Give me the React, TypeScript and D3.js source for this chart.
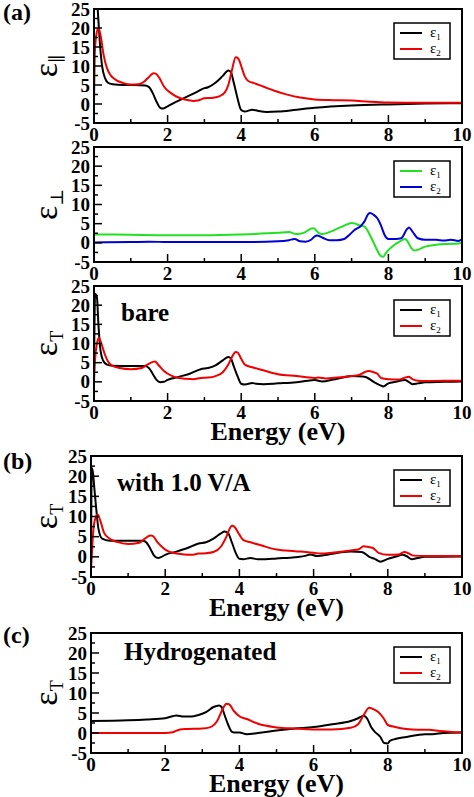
import React from "react";
import * as d3 from "d3";

// ---------- data (Energy in eV, value) ----------
const xTicks = [0, 2, 4, 6, 8, 10];
const yTicks = [-5, 0, 5, 10, 15, 20, 25];

const parEps1: [number, number][] = [
  [0.0, 28], [0.08, 27], [0.12, 22], [0.16, 16], [0.22, 10], [0.3, 6.8], [0.38, 5.6], [0.5, 5.2], [0.8, 5.0], [1.1, 5.0],
  [1.4, 4.9], [1.5, 4.4], [1.6, 2.8], [1.7, 0.6], [1.8, -1.0], [1.87, -1.2], [2.0, -0.6], [2.2, 0.4], [2.5, 1.8],
  [2.8, 3.2], [2.95, 4.0], [3.1, 4.4], [3.3, 5.6], [3.5, 7.4], [3.65, 8.8], [3.72, 8.4], [3.8, 5.5], [3.9, 1.5],
  [4.0, -1.6], [4.1, -2.0], [4.3, -1.5], [4.45, -1.8], [4.7, -2.1], [5.0, -2.0], [5.5, -1.5], [6.0, -1.0],
  [7.0, -0.4], [8.0, -0.1], [9.0, 0.1], [10.0, 0.2],
];
const parEps2: [number, number][] = [
  [0.0, 0], [0.02, 13], [0.06, 18], [0.12, 20], [0.18, 18], [0.26, 13], [0.35, 9.5], [0.45, 7.6], [0.6, 6.3],
  [0.8, 5.5], [1.0, 5.1], [1.2, 5.2], [1.35, 5.8], [1.5, 7.2], [1.62, 8.1], [1.68, 8.0], [1.78, 6.8], [1.9, 4.6],
  [2.1, 2.8], [2.3, 1.7], [2.5, 1.1], [2.7, 0.8], [2.85, 1.0], [3.0, 1.5], [3.2, 1.6], [3.4, 2.0], [3.55, 3.0],
  [3.65, 5.0], [3.75, 9.0], [3.85, 12.3], [3.92, 12.0], [4.0, 10.0], [4.1, 7.2], [4.2, 6.0], [4.35, 5.5],
  [4.6, 4.6], [4.9, 3.5], [5.2, 2.6], [5.6, 1.7], [6.0, 1.2], [6.5, 1.0], [7.0, 0.9], [7.5, 0.6], [8.0, 0.4],
  [9.0, 0.3], [10.0, 0.3],
];
const perpEps1: [number, number][] = [
  [0.0, 2.2], [1.0, 2.1], [2.0, 2.0], [3.0, 2.0], [4.0, 2.2], [5.0, 2.6], [5.3, 2.8], [5.5, 2.3], [5.7, 2.6],
  [5.9, 3.7], [5.97, 3.8], [6.1, 2.6], [6.2, 2.3], [6.5, 3.2], [6.8, 4.5], [7.0, 5.2], [7.1, 5.0], [7.2, 4.6],
  [7.35, 4.2], [7.5, 2.0], [7.6, 0.0], [7.7, -2.0], [7.8, -3.5], [7.86, -3.6], [7.95, -2.4], [8.1, -1.0],
  [8.3, 0.3], [8.45, 1.0], [8.52, 0.4], [8.62, -1.3], [8.7, -2.0], [8.8, -1.8], [9.0, -1.0], [9.3, -0.5],
  [9.6, -0.3], [9.9, -0.2], [10.0, 0.2],
];
const perpEps2: [number, number][] = [
  [0.0, 0.1], [1.0, 0.2], [1.5, 0.3], [2.0, 0.2], [3.0, 0.2], [4.0, 0.2], [5.0, 0.4], [5.3, 0.7], [5.45, 1.0],
  [5.6, 0.4], [5.75, 0.3], [5.9, 0.8], [6.0, 1.7], [6.06, 1.9], [6.2, 1.4], [6.4, 0.7], [6.6, 0.7], [6.8, 1.0],
  [6.95, 2.2], [7.1, 3.5], [7.25, 4.4], [7.35, 5.6], [7.45, 7.5], [7.5, 7.8], [7.6, 7.3], [7.7, 6.4], [7.8, 4.5],
  [7.9, 2.0], [8.0, 1.0], [8.2, 1.0], [8.35, 1.2], [8.5, 3.5], [8.56, 4.0], [8.65, 3.0], [8.8, 1.2], [9.0, 0.8],
  [9.3, 0.8], [9.5, 0.6], [9.7, 0.8], [9.9, 0.5], [10.0, 0.9],
];
const bareEps1: [number, number][] = [
  [0.0, 2], [0.03, 23], [0.08, 22], [0.12, 15], [0.18, 8], [0.25, 5.5], [0.35, 4.5], [0.5, 4.2], [1.0, 4.1],
  [1.4, 4.1], [1.5, 3.5], [1.6, 2.0], [1.7, 0.5], [1.8, -0.1], [1.9, 0.0], [2.0, 0.5], [2.3, 1.3], [2.6, 2.1],
  [2.9, 3.3], [3.1, 3.6], [3.3, 4.3], [3.5, 5.6], [3.65, 6.5], [3.72, 6.1], [3.8, 4.0], [3.9, 1.5], [4.0, -0.5],
  [4.1, -0.7], [4.3, -0.3], [4.4, -0.5], [4.6, -0.6], [5.0, -0.4], [5.5, -0.1], [5.8, 0.3], [6.0, 0.5],
  [6.2, 0.1], [6.5, 0.6], [6.8, 1.2], [7.0, 1.5], [7.3, 1.4], [7.4, 1.2], [7.6, 0.0], [7.8, -1.0], [7.86, -1.2],
  [8.0, -0.4], [8.2, 0.0], [8.45, 0.5], [8.55, 0.0], [8.65, -0.6], [8.8, -0.4], [9.0, -0.1], [9.5, 0.0], [10.0, 0.1],
];
const bareEps2: [number, number][] = [
  [0.0, 0], [0.03, 6], [0.08, 10], [0.13, 11.5], [0.2, 10], [0.3, 7], [0.4, 5], [0.5, 4.2], [0.7, 3.6], [1.0, 3.3],
  [1.3, 3.6], [1.45, 4.5], [1.6, 5.2], [1.66, 5.3], [1.75, 4.4], [1.9, 2.8], [2.1, 1.6], [2.3, 1.0], [2.5, 0.8],
  [2.7, 0.7], [2.9, 1.0], [3.1, 1.1], [3.3, 1.5], [3.5, 2.5], [3.65, 4.5], [3.75, 6.5], [3.85, 7.8], [3.9, 7.7],
  [4.0, 6.0], [4.1, 4.5], [4.3, 3.8], [4.6, 3.0], [5.0, 2.0], [5.5, 1.5], [6.0, 1.0], [6.1, 1.1], [6.3, 0.9],
  [6.6, 1.1], [7.0, 1.5], [7.2, 1.8], [7.35, 2.5], [7.45, 2.8], [7.6, 2.5], [7.7, 2.1], [7.8, 1.0], [8.0, 0.7],
  [8.3, 0.6], [8.45, 1.1], [8.55, 1.3], [8.65, 0.7], [8.8, 0.3], [9.0, 0.2], [9.5, 0.3], [10.0, 0.3],
];
const fieldEps1: [number, number][] = [
  [0.0, -4], [0.02, 22], [0.05, 21], [0.1, 16], [0.15, 11], [0.2, 7], [0.3, 4.5], [0.5, 4.0], [1.0, 4.0],
  [1.4, 4.0], [1.5, 3.5], [1.6, 2.0], [1.7, 0.3], [1.8, -0.3], [1.9, 0.0], [2.0, 0.5], [2.3, 1.3], [2.6, 2.2],
  [2.9, 3.3], [3.1, 3.6], [3.3, 4.5], [3.5, 5.8], [3.6, 6.3], [3.7, 5.8], [3.8, 3.5], [3.9, 1.0], [4.0, -0.5],
  [4.1, -0.6], [4.3, -0.3], [4.5, -0.6], [4.7, -0.6], [5.0, -0.4], [5.5, -0.1], [5.8, 0.3], [5.9, 0.6],
  [6.1, 0.2], [6.4, 0.6], [6.8, 1.2], [7.0, 1.3], [7.3, 1.2], [7.5, 0.0], [7.65, -0.5], [7.8, -1.2], [8.0, -0.5],
  [8.2, 0.0], [8.4, 0.5], [8.5, 0.2], [8.65, -0.6], [8.8, -0.3], [9.0, 0.0], [10.0, 0.1],
];
const fieldEps2: [number, number][] = [
  [0.0, -3], [0.02, 0], [0.05, 5], [0.1, 9], [0.18, 10.5], [0.25, 9], [0.35, 6], [0.5, 4.5], [0.7, 3.7],
  [1.0, 3.2], [1.3, 3.5], [1.45, 4.5], [1.6, 5.3], [1.66, 5.2], [1.8, 3.5], [2.0, 1.8], [2.2, 1.0], [2.5, 0.6],
  [2.7, 0.5], [2.9, 0.8], [3.1, 0.9], [3.3, 1.2], [3.5, 2.5], [3.65, 5.0], [3.75, 7.2], [3.8, 7.7], [3.86, 7.5],
  [4.0, 5.5], [4.1, 4.2], [4.3, 3.6], [4.6, 2.8], [5.0, 1.8], [5.5, 1.4], [5.9, 1.1], [6.0, 1.0], [6.2, 0.8],
  [6.5, 1.0], [6.8, 1.3], [7.0, 1.6], [7.2, 1.8], [7.35, 2.6], [7.45, 2.5], [7.6, 2.2], [7.75, 1.0], [8.0, 0.5],
  [8.3, 0.6], [8.45, 1.2], [8.55, 0.9], [8.7, 0.3], [9.0, 0.2], [10.0, 0.2],
];
const hydEps1: [number, number][] = [
  [0.0, 3.0], [1.0, 3.2], [1.5, 3.4], [2.0, 3.7], [2.2, 4.2], [2.3, 4.4], [2.5, 4.1], [2.7, 4.1], [2.9, 4.5],
  [3.1, 5.2], [3.3, 6.5], [3.45, 6.9], [3.52, 6.5], [3.6, 4.5], [3.7, 2.0], [3.8, 0.3], [3.9, 0.1], [4.0, 0.1],
  [4.2, -0.3], [4.5, 0.0], [5.0, 0.6], [5.5, 1.1], [6.0, 1.5], [6.5, 2.2], [7.0, 3.0], [7.2, 3.7], [7.35, 4.3],
  [7.45, 3.5], [7.55, 1.5], [7.65, 0.3], [7.8, -1.0], [7.9, -2.5], [8.0, -2.6], [8.05, -2.0], [8.2, -1.5],
  [8.5, -1.0], [8.8, -0.5], [9.0, -0.3], [9.2, -0.3], [9.5, 0.0], [10.0, 0.1],
];
const hydEps2: [number, number][] = [
  [0.0, 0.0], [2.0, 0.0], [2.2, 0.2], [2.4, 0.9], [2.6, 1.0], [3.0, 1.1], [3.2, 1.4], [3.4, 3.0], [3.55, 6.0],
  [3.65, 7.3], [3.72, 7.2], [3.85, 5.5], [4.0, 4.2], [4.2, 3.5], [4.5, 2.3], [5.0, 1.4], [5.5, 1.1], [6.0, 0.9],
  [6.5, 0.9], [7.0, 1.3], [7.2, 2.2], [7.35, 4.5], [7.5, 6.3], [7.6, 6.0], [7.75, 5.2], [7.9, 3.5], [8.0, 2.0],
  [8.2, 1.5], [8.5, 1.0], [8.8, 0.8], [9.1, 0.8], [9.4, 0.5], [10.0, 0.1],
];

const BLACK = "#000000";
const RED = "#f00000";
const GREEN = "#22e022";
const BLUE = "#0000d8";

const SERIF = "Liberation Serif, Times New Roman, DejaVu Serif, serif";

type Panel = {
  id: string;
  left: number;
  top: number;
  bottom: number;
  sub: string;
  s1: [number, number][];
  s2: [number, number][];
  c1: string;
  c2: string;
  tag?: string;
  tagY?: number;
  note?: string;
  noteX?: number;
  noteY?: number;
  xTitle?: boolean;
};

const panels: Panel[] = [
  { id: "a1", left: 94, top: 9, bottom: 123, sub: "\u2225", s1: parEps1, s2: parEps2, c1: BLACK, c2: RED, tag: "(a)", tagY: 20 },
  { id: "a2", left: 94, top: 147, bottom: 262, sub: "\u22A5", s1: perpEps1, s2: perpEps2, c1: GREEN, c2: BLUE },
  { id: "a3", left: 94, top: 286, bottom: 401, sub: "T", s1: bareEps1, s2: bareEps2, c1: BLACK, c2: RED, note: "bare", noteX: 121, noteY: 321, xTitle: true },
  { id: "b", left: 91, top: 456, bottom: 577, sub: "T", s1: fieldEps1, s2: fieldEps2, c1: BLACK, c2: RED, tag: "(b)", tagY: 469, note: "with 1.0 V/A", noteX: 117, noteY: 491, xTitle: true },
  { id: "c", left: 91, top: 633, bottom: 753, sub: "T", s1: hydEps1, s2: hydEps2, c1: BLACK, c2: RED, tag: "(c)", tagY: 643, note: "Hydrogenated", noteX: 124, noteY: 660, xTitle: true },
];

const RIGHT = 462;

function PanelView({ p }: { p: Panel }) {
  const x = d3.scaleLinear().domain([0, 10]).range([p.left, RIGHT]);
  const y = d3.scaleLinear().domain([-5, 25]).range([p.bottom, p.top]);
  const line = d3
    .line<[number, number]>()
    .x((d) => x(d[0]))
    .y((d) => y(d[1]))
    .curve(d3.curveMonotoneX);
  const yMinor = d3.range(-2.5, 25, 5);
  const xMinor = d3.range(1, 10, 2);
  const cy = (p.top + p.bottom) / 2;
  const lgX = RIGHT - 68;
  const lgY = p.top + 14;
  const font = { fontFamily: SERIF };
  return (
    <g>
      <defs>
        <clipPath id={`clip-${p.id}`}>
          <rect x={p.left} y={p.top} width={RIGHT - p.left} height={p.bottom - p.top} />
        </clipPath>
      </defs>
      <g clipPath={`url(#clip-${p.id})`}>
        <path d={line(p.s1) || ""} fill="none" stroke={p.c1} strokeWidth={2} />
        <path d={line(p.s2) || ""} fill="none" stroke={p.c2} strokeWidth={2} />
      </g>
      {yTicks.map((t) => (
        <line key={`yt${t}`} x1={p.left} x2={p.left + 8} y1={y(t)} y2={y(t)} stroke="#000" strokeWidth={1.5} />
      ))}
      {yMinor.map((t) => (
        <line key={`ym${t}`} x1={p.left} x2={p.left + 4} y1={y(t)} y2={y(t)} stroke="#000" strokeWidth={1.5} />
      ))}
      {xTicks.map((t) => (
        <line key={`xt${t}`} x1={x(t)} x2={x(t)} y1={p.bottom} y2={p.bottom - 8} stroke="#000" strokeWidth={1.5} />
      ))}
      {xMinor.map((t) => (
        <line key={`xm${t}`} x1={x(t)} x2={x(t)} y1={p.bottom} y2={p.bottom - 4} stroke="#000" strokeWidth={1.5} />
      ))}
      <rect x={p.left} y={p.top} width={RIGHT - p.left} height={p.bottom - p.top} fill="none" stroke="#000" strokeWidth={2} />
      {yTicks.map((t) => (
        <text key={`yl${t}`} x={p.left - 4} y={y(t)} dy="0.35em" textAnchor="end" style={font} fontWeight="bold" fontSize={19}>
          {t}
        </text>
      ))}
      {xTicks.map((t) => (
        <text key={`xl${t}`} x={x(t)} y={p.bottom + 18} textAnchor="middle" style={font} fontWeight="bold" fontSize={19}>
          {t}
        </text>
      ))}
      <text transform={`translate(57,${cy}) rotate(-90)`} textAnchor="middle" style={font}>
        <tspan fontSize={34}>ε</tspan>
        <tspan fontSize={18} dy={6}>{p.sub}</tspan>
      </text>
      <rect x={lgX} y={lgY} width={56} height={36} fill="#fff" stroke="#000" strokeWidth={1.5} />
      <line x1={lgX + 6} x2={lgX + 28} y1={lgY + 10} y2={lgY + 10} stroke={p.c1} strokeWidth={2} />
      <line x1={lgX + 6} x2={lgX + 28} y1={lgY + 26} y2={lgY + 26} stroke={p.c2} strokeWidth={2} />
      <text x={lgX + 36} y={lgY + 14} style={font} fontSize={15}>
        ε<tspan fontSize={9} dy={3}>1</tspan>
      </text>
      <text x={lgX + 36} y={lgY + 30} style={font} fontSize={15}>
        ε<tspan fontSize={9} dy={3}>2</tspan>
      </text>
      {p.tag && (
        <text x={3} y={p.tagY} style={font} fontWeight="bold" fontSize={24}>
          {p.tag}
        </text>
      )}
      {p.note && (
        <text x={p.noteX} y={p.noteY} style={font} fontWeight="bold" fontSize={25}>
          {p.note}
        </text>
      )}
      {p.xTitle && (
        <text x={(p.left + RIGHT) / 2} y={p.bottom + 39} textAnchor="middle" style={font} fontWeight="bold" fontSize={26}>
          Energy (eV)
        </text>
      )}
    </g>
  );
}

export default function App() {
  return (
    <svg width={474} height={797} style={{ position: "absolute", left: 0, top: 0, background: "#fff" }}>
      <rect width={474} height={797} fill="#fff" />
      {panels.map((p) => (
        <PanelView key={p.id} p={p} />
      ))}
    </svg>
  );
}
